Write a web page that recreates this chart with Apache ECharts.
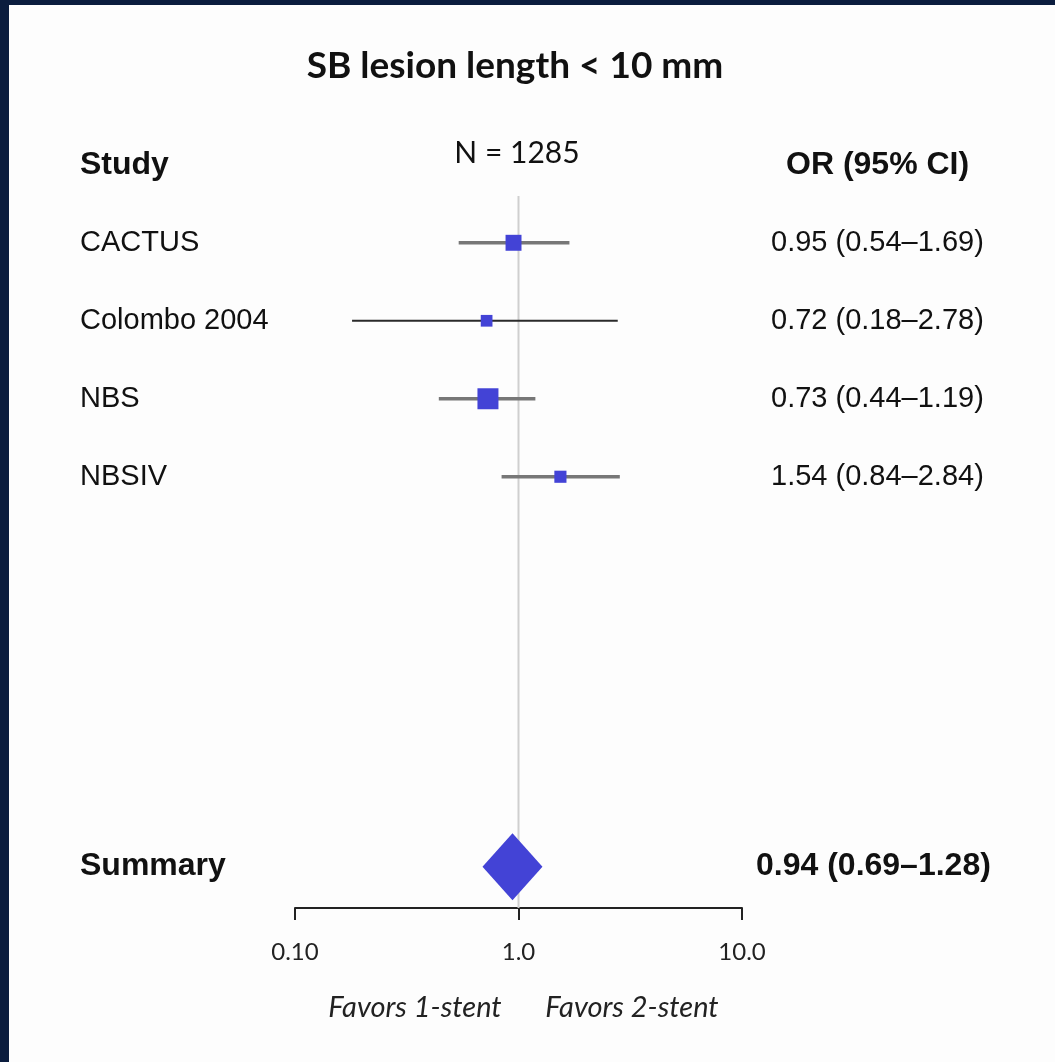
<!DOCTYPE html>
<html>
<head>
<meta charset="utf-8">
<script src="https://cdn.jsdelivr.net/npm/echarts@6/dist/echarts.min.js"></script>
<style>
  html, body { margin: 0; padding: 0; background: #0b1d3e; }
  #chart { width: 1055px; height: 1062px; }
</style>
</head>
<body>
<div id="chart"></div>
<script>
// ---- data ----
const titleText = 'SB lesion length < 10 mm';
const sampleText = 'N = 1285';
const studies = ['CACTUS', 'Colombo 2004', 'NBS', 'NBSIV'];
const orValues = [0.95, 0.72, 0.73, 1.54];
const ciLow = [0.54, 0.18, 0.44, 0.84];
const ciHigh = [1.69, 2.78, 1.19, 2.84];
const weights = [26, 14, 45, 15];
const orLabels = ['0.95 (0.54\u20131.69)', '0.72 (0.18\u20132.78)', '0.73 (0.44\u20131.19)', '1.54 (0.84\u20132.84)'];
const summaryName = 'Summary';
const summaryOR = 0.94;
const summaryLow = 0.69;
const summaryHigh = 1.28;
const summaryLabel = '0.94 (0.69\u20131.28)';
const tickLabels = ['0.10', '1.0', '10.0'];
const favorsLeft = 'Favors 1-stent';
const favorsRight = 'Favors 2-stent';

// ---- styles ----
const BLUE = '#4343d6';
const ciStyles = [
  { stroke: '#777777', lineWidth: 3.5 },
  { stroke: '#2a2a2a', lineWidth: 2 },
  { stroke: '#777777', lineWidth: 3.5 },
  { stroke: '#777777', lineWidth: 3.5 }
];
const SANS = '"Liberation Sans", Arial, sans-serif';
const HUMAN = 'Lato, "Open Sans", sans-serif';
const NAME_X = 80;
const OR_X = 771;
const SUMMARY_ROW = 9;

const studyData = studies.map((s, i) => [ciLow[i], ciHigh[i], orValues[i], i + 1, i]);

const chart = echarts.init(document.getElementById('chart'), null, { renderer: 'canvas' });

chart.setOption({
  backgroundColor: '#0b1d3e',
  animation: false,
  grid: { left: 295, right: 313, top: 196, bottom: 154, containLabel: false },
  xAxis: {
    type: 'log',
    logBase: 10,
    min: 0.1,
    max: 10,
    axisLine: { show: true, onZero: false, lineStyle: { color: '#222', width: 2 } },
    axisTick: { show: true, length: 12, lineStyle: { color: '#222', width: 2 } },
    minorTick: { show: false },
    splitLine: { show: false },
    axisLabel: {
      margin: 32,
      fontFamily: HUMAN,
      fontSize: 24,
      color: '#222',
      formatter: function (v) {
        const idx = Math.round(Math.log10(v)) + 1;
        return tickLabels[idx] !== undefined ? tickLabels[idx] : '';
      }
    }
  },
  yAxis: {
    type: 'value',
    inverse: true,
    min: 0.4,
    max: 9.53,
    show: false
  },
  graphic: [
    { type: 'rect', z: -10, shape: { x: 9, y: 5, width: 1046, height: 1057 }, style: { fill: '#fdfdfd' } },
    { type: 'text', x: 515, y: 66, style: { text: titleText, font: 'bold 37px ' + HUMAN, fill: '#111', textAlign: 'center', textVerticalAlign: 'middle' } },
    { type: 'text', x: 517, y: 153, style: { text: sampleText, font: '30px ' + HUMAN, fill: '#111', textAlign: 'center', textVerticalAlign: 'middle' } },
    { type: 'text', x: NAME_X, y: 165, style: { text: 'Study', font: 'bold 32px ' + SANS, fill: '#111', textAlign: 'left', textVerticalAlign: 'middle' } },
    { type: 'text', x: 786, y: 165, style: { text: 'OR (95% CI)', font: 'bold 32px ' + SANS, fill: '#111', textAlign: 'left', textVerticalAlign: 'middle' } },
    { type: 'text', x: 415, y: 1008, style: { text: favorsLeft, font: 'italic 29px ' + HUMAN, fill: '#222', textAlign: 'center', textVerticalAlign: 'middle' } },
    { type: 'text', x: 632, y: 1008, style: { text: favorsRight, font: 'italic 29px ' + HUMAN, fill: '#222', textAlign: 'center', textVerticalAlign: 'middle' } }
  ],
  series: [
    {
      type: 'line',
      data: [[1, 0.4], [1, 9.53]],
      symbol: 'none',
      silent: true,
      z: 1,
      lineStyle: { color: '#cfcfcf', width: 2 }
    },
    {
      type: 'custom',
      z: 3,
      clip: false,
      data: studyData,
      renderItem: function (params, api) {
        const i = api.value(4);
        const row = api.value(3);
        const pLo = api.coord([api.value(0), row]);
        const pHi = api.coord([api.value(1), row]);
        const pC = api.coord([api.value(2), row]);
        const s = 3.13 * Math.sqrt(weights[i]);
        return {
          type: 'group',
          children: [
            { type: 'line', shape: { x1: pLo[0], y1: pLo[1], x2: pHi[0], y2: pHi[1] }, style: ciStyles[i] },
            { type: 'rect', shape: { x: pC[0] - s / 2, y: pC[1] - s / 2, width: s, height: s }, style: { fill: BLUE } },
            { type: 'text', x: NAME_X, y: pC[1], style: { text: studies[i], font: '29px ' + SANS, fill: '#111', textAlign: 'left', textVerticalAlign: 'middle' } },
            { type: 'text', x: OR_X, y: pC[1], style: { text: orLabels[i], font: '29px ' + SANS, fill: '#111', textAlign: 'left', textVerticalAlign: 'middle' } }
          ]
        };
      }
    },
    {
      type: 'custom',
      z: 3,
      clip: false,
      data: [[summaryLow, summaryHigh, summaryOR, SUMMARY_ROW]],
      renderItem: function (params, api) {
        const row = api.value(3);
        const h = 0.43;
        const pL = api.coord([api.value(0), row]);
        const pR = api.coord([api.value(1), row]);
        const pT = api.coord([api.value(2), row - h]);
        const pB = api.coord([api.value(2), row + h]);
        return {
          type: 'group',
          children: [
            { type: 'polygon', shape: { points: [pL, pT, pR, pB] }, style: { fill: BLUE } },
            { type: 'text', x: NAME_X, y: pL[1], style: { text: summaryName, font: 'bold 32px ' + SANS, fill: '#111', textAlign: 'left', textVerticalAlign: 'middle' } },
            { type: 'text', x: 756, y: pL[1], style: { text: summaryLabel, font: 'bold 32px ' + SANS, fill: '#111', textAlign: 'left', textVerticalAlign: 'middle' } }
          ]
        };
      }
    }
  ]
});
</script>
</body>
</html>
